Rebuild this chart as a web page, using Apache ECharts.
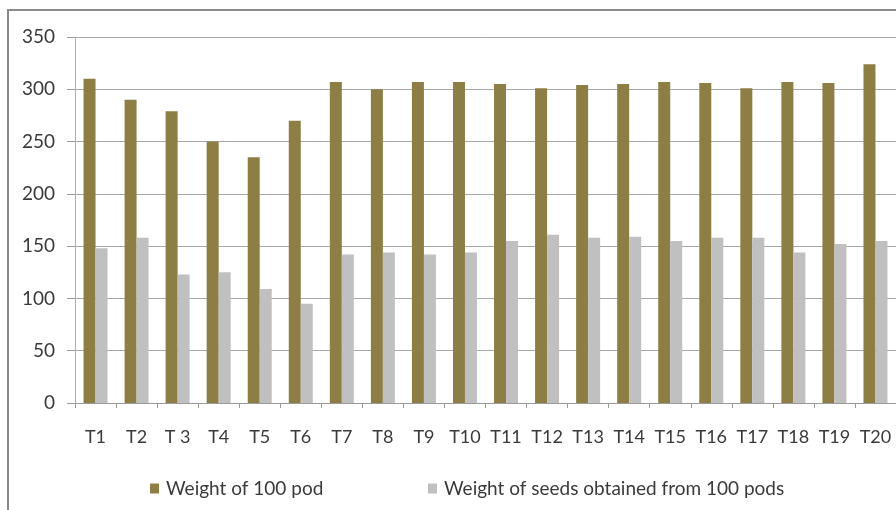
<!DOCTYPE html>
<html>
<head>
<meta charset="utf-8">
<script src="https://cdn.jsdelivr.net/npm/echarts@6/dist/echarts.min.js"></script>
<style>
  html, body { margin: 0; padding: 0; background: #fff; }
  #chart { width: 896px; height: 510px; }
</style>
</head>
<body>
<div id="chart"></div>
<script>
// Treatments and measured weights
const categories = ['T1', 'T2', 'T 3', 'T4', 'T5', 'T6', 'T7', 'T8', 'T9', 'T10',
  'T11', 'T12', 'T13', 'T14', 'T15', 'T16', 'T17', 'T18', 'T19', 'T20'];
const podWeight = [310, 290, 279, 250, 235, 270, 307, 300, 307, 307,
  305, 301, 304, 305, 307, 306, 301, 307, 306, 324];
const seedWeight = [148, 158, 123, 125, 109, 95, 142, 144, 142, 144,
  155, 161, 158, 159, 155, 158, 158, 144, 152, 155];
const yTicks = [0, 50, 100, 150, 200, 250, 300, 350];

const seriesNames = ['Weight of 100 pod', 'Weight of seeds obtained from 100 pods'];
const colors = ['#8C7E45', '#C0C0C0'];
const font = 'Lato, "Open Sans", sans-serif';
const textColor = '#3a3a3a';

const chart = echarts.init(document.getElementById('chart'), null, { renderer: 'canvas' });
chart.setOption({
  animation: false,
  backgroundColor: '#fff',
  graphic: [{
    type: 'rect',
    shape: { x: 8, y: 10, width: 900, height: 520 },
    style: { fill: 'none', stroke: '#8a8a8a', lineWidth: 2 },
    silent: true
  }],
  legend: [{
    data: [seriesNames[0]],
    left: 145, top: 474,
    itemWidth: 9, itemHeight: 10, icon: 'rect',
    textStyle: { fontFamily: font, fontSize: 19, color: textColor, padding: [0, 0, 0, 2] }
  }, {
    data: [seriesNames[1]],
    left: 423, top: 474,
    itemWidth: 9, itemHeight: 10, icon: 'rect',
    textStyle: { fontFamily: font, fontSize: 19, color: textColor, padding: [0, 0, 0, 2] }
  }],
  grid: { left: 75, right: -7, top: 37, bottom: 107, containLabel: false },
  xAxis: {
    type: 'category',
    data: categories,
    axisLine: { lineStyle: { color: '#9a9a9a', width: 1 } },
    axisTick: { show: true, alignWithLabel: false, length: 5, lineStyle: { color: '#9a9a9a' } },
    axisLabel: { fontFamily: font, fontSize: 18, color: textColor, margin: 25, interval: 0 }
  },
  yAxis: {
    type: 'value',
    min: yTicks[0],
    max: yTicks[yTicks.length - 1],
    interval: 50,
    axisLine: { show: true, lineStyle: { color: '#b0b0b0' } },
    axisTick: { show: true, length: 8, inside: false, lineStyle: { color: '#9a9a9a' } },
    axisLabel: { fontFamily: font, fontSize: 19, color: textColor, margin: 20 },
    splitLine: { show: true, lineStyle: { color: '#a8a8a8', width: 1 } }
  },
  series: [{
    name: seriesNames[0],
    type: 'bar',
    data: podWeight,
    barWidth: 12,
    barGap: '0%',
    itemStyle: { color: colors[0] }
  }, {
    name: seriesNames[1],
    type: 'bar',
    data: seedWeight,
    barWidth: 12,
    barGap: '0%',
    itemStyle: { color: colors[1] }
  }]
});
</script>
</body>
</html>
